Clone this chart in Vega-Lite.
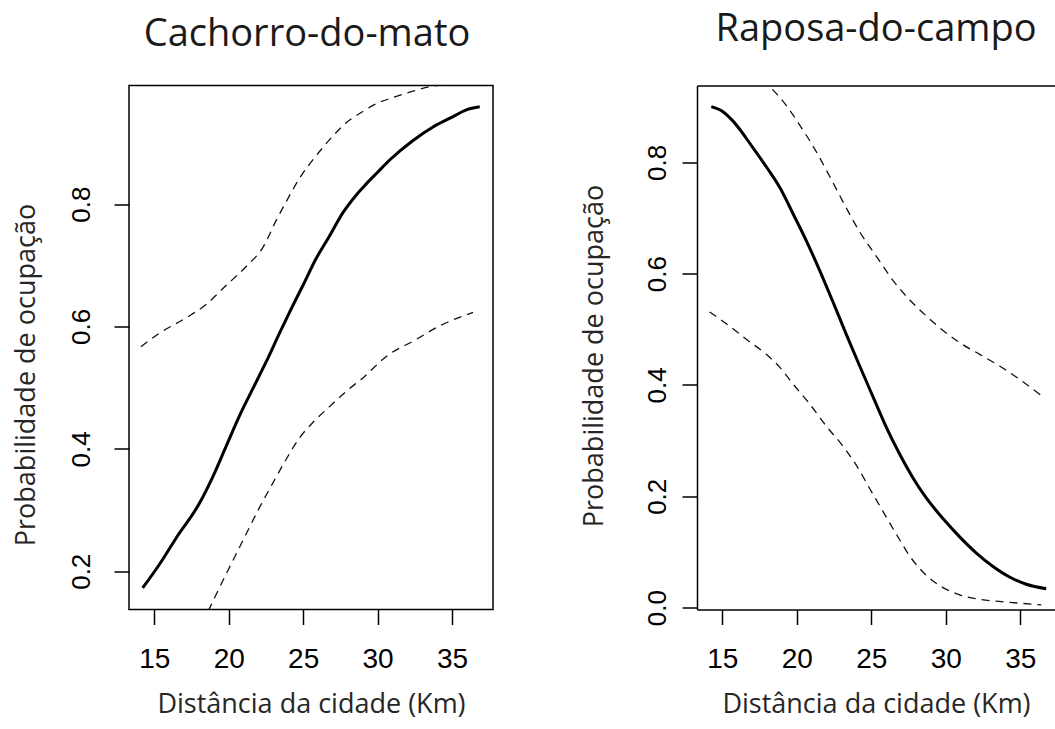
{
  "$schema": "https://vega.github.io/schema/vega-lite/v6.json",
  "background": "white",
  "padding": {"left": 11, "top": 10.5, "right": 0, "bottom": 6},
  "bounds": "flush",
  "spacing": 204,
  "datasets": {
    "cachorro": [
      {"serie": "ajuste", "dist": 14.22, "prob": 0.173},
      {"serie": "ajuste", "dist": 15.34, "prob": 0.211},
      {"serie": "ajuste", "dist": 16.46, "prob": 0.254},
      {"serie": "ajuste", "dist": 18.03, "prob": 0.311},
      {"serie": "ajuste", "dist": 18.92, "prob": 0.354},
      {"serie": "ajuste", "dist": 19.82, "prob": 0.404},
      {"serie": "ajuste", "dist": 20.72, "prob": 0.454},
      {"serie": "ajuste", "dist": 21.61, "prob": 0.498},
      {"serie": "ajuste", "dist": 22.51, "prob": 0.542},
      {"serie": "ajuste", "dist": 23.41, "prob": 0.589},
      {"serie": "ajuste", "dist": 24.08, "prob": 0.623},
      {"serie": "ajuste", "dist": 24.98, "prob": 0.667},
      {"serie": "ajuste", "dist": 25.87, "prob": 0.711},
      {"serie": "ajuste", "dist": 26.77, "prob": 0.748},
      {"serie": "ajuste", "dist": 27.67, "prob": 0.786},
      {"serie": "ajuste", "dist": 28.57, "prob": 0.815},
      {"serie": "ajuste", "dist": 29.24, "prob": 0.833},
      {"serie": "ajuste", "dist": 30.0, "prob": 0.852},
      {"serie": "ajuste", "dist": 30.81, "prob": 0.872},
      {"serie": "ajuste", "dist": 32.38, "prob": 0.904},
      {"serie": "ajuste", "dist": 33.72, "prob": 0.926},
      {"serie": "ajuste", "dist": 35.07, "prob": 0.943},
      {"serie": "ajuste", "dist": 35.96, "prob": 0.954},
      {"serie": "ajuste", "dist": 36.86, "prob": 0.959},
      {"serie": "ic_sup", "dist": 14.1, "prob": 0.567},
      {"serie": "ic_sup", "dist": 15.34, "prob": 0.589},
      {"serie": "ic_sup", "dist": 17.13, "prob": 0.614},
      {"serie": "ic_sup", "dist": 18.48, "prob": 0.636},
      {"serie": "ic_sup", "dist": 19.82, "prob": 0.667},
      {"serie": "ic_sup", "dist": 21.17, "prob": 0.698},
      {"serie": "ic_sup", "dist": 22.29, "prob": 0.729},
      {"serie": "ic_sup", "dist": 23.18, "prob": 0.773},
      {"serie": "ic_sup", "dist": 23.86, "prob": 0.804},
      {"serie": "ic_sup", "dist": 24.75, "prob": 0.842},
      {"serie": "ic_sup", "dist": 25.87, "prob": 0.879},
      {"serie": "ic_sup", "dist": 26.99, "prob": 0.911},
      {"serie": "ic_sup", "dist": 27.89, "prob": 0.933},
      {"serie": "ic_sup", "dist": 28.79, "prob": 0.948},
      {"serie": "ic_sup", "dist": 29.91, "prob": 0.964},
      {"serie": "ic_sup", "dist": 31.26, "prob": 0.976},
      {"serie": "ic_sup", "dist": 32.6, "prob": 0.986},
      {"serie": "ic_sup", "dist": 33.72, "prob": 0.993},
      {"serie": "ic_sup", "dist": 35.0, "prob": 0.996},
      {"serie": "ic_sup", "dist": 36.86, "prob": 0.998},
      {"serie": "ic_inf", "dist": 14.1, "prob": 0.025},
      {"serie": "ic_inf", "dist": 16.0, "prob": 0.05},
      {"serie": "ic_inf", "dist": 17.5, "prob": 0.09},
      {"serie": "ic_inf", "dist": 18.7, "prob": 0.139},
      {"serie": "ic_inf", "dist": 19.37, "prob": 0.173},
      {"serie": "ic_inf", "dist": 20.27, "prob": 0.217},
      {"serie": "ic_inf", "dist": 21.17, "prob": 0.261},
      {"serie": "ic_inf", "dist": 22.06, "prob": 0.304},
      {"serie": "ic_inf", "dist": 22.96, "prob": 0.344},
      {"serie": "ic_inf", "dist": 23.86, "prob": 0.383},
      {"serie": "ic_inf", "dist": 24.75, "prob": 0.418},
      {"serie": "ic_inf", "dist": 25.65, "prob": 0.443},
      {"serie": "ic_inf", "dist": 26.77, "prob": 0.469},
      {"serie": "ic_inf", "dist": 27.89, "prob": 0.494},
      {"serie": "ic_inf", "dist": 29.01, "prob": 0.516},
      {"serie": "ic_inf", "dist": 30.58, "prob": 0.551},
      {"serie": "ic_inf", "dist": 32.6, "prob": 0.579},
      {"serie": "ic_inf", "dist": 34.17, "prob": 0.601},
      {"serie": "ic_inf", "dist": 36.41, "prob": 0.623}
    ],
    "raposa": [
      {"serie": "ajuste", "dist": 14.26, "prob": 0.9},
      {"serie": "ajuste", "dist": 15.04, "prob": 0.891},
      {"serie": "ajuste", "dist": 15.72, "prob": 0.874},
      {"serie": "ajuste", "dist": 17.06, "prob": 0.826},
      {"serie": "ajuste", "dist": 17.95, "prob": 0.792},
      {"serie": "ajuste", "dist": 18.85, "prob": 0.755},
      {"serie": "ajuste", "dist": 19.74, "prob": 0.708},
      {"serie": "ajuste", "dist": 20.64, "prob": 0.659},
      {"serie": "ajuste", "dist": 21.53, "prob": 0.606},
      {"serie": "ajuste", "dist": 22.43, "prob": 0.549},
      {"serie": "ajuste", "dist": 23.32, "prob": 0.491},
      {"serie": "ajuste", "dist": 24.22, "prob": 0.434},
      {"serie": "ajuste", "dist": 25.11, "prob": 0.379},
      {"serie": "ajuste", "dist": 26.01, "prob": 0.324},
      {"serie": "ajuste", "dist": 26.9, "prob": 0.276},
      {"serie": "ajuste", "dist": 27.8, "prob": 0.233},
      {"serie": "ajuste", "dist": 28.69, "prob": 0.197},
      {"serie": "ajuste", "dist": 29.81, "prob": 0.16},
      {"serie": "ajuste", "dist": 30.93, "prob": 0.127},
      {"serie": "ajuste", "dist": 32.05, "prob": 0.098},
      {"serie": "ajuste", "dist": 33.17, "prob": 0.074},
      {"serie": "ajuste", "dist": 34.28, "prob": 0.055},
      {"serie": "ajuste", "dist": 35.4, "prob": 0.042},
      {"serie": "ajuste", "dist": 36.74, "prob": 0.034},
      {"serie": "ic_sup", "dist": 14.26, "prob": 0.985},
      {"serie": "ic_sup", "dist": 16.0, "prob": 0.975},
      {"serie": "ic_sup", "dist": 17.2, "prob": 0.96},
      {"serie": "ic_sup", "dist": 18.18, "prob": 0.936},
      {"serie": "ic_sup", "dist": 19.3, "prob": 0.902},
      {"serie": "ic_sup", "dist": 20.19, "prob": 0.867},
      {"serie": "ic_sup", "dist": 21.31, "prob": 0.819},
      {"serie": "ic_sup", "dist": 22.2, "prob": 0.775},
      {"serie": "ic_sup", "dist": 23.32, "prob": 0.718},
      {"serie": "ic_sup", "dist": 24.22, "prob": 0.675},
      {"serie": "ic_sup", "dist": 25.34, "prob": 0.631},
      {"serie": "ic_sup", "dist": 26.45, "prob": 0.588},
      {"serie": "ic_sup", "dist": 27.57, "prob": 0.553},
      {"serie": "ic_sup", "dist": 28.69, "prob": 0.524},
      {"serie": "ic_sup", "dist": 29.81, "prob": 0.498},
      {"serie": "ic_sup", "dist": 30.93, "prob": 0.476},
      {"serie": "ic_sup", "dist": 32.27, "prob": 0.455},
      {"serie": "ic_sup", "dist": 33.61, "prob": 0.434},
      {"serie": "ic_sup", "dist": 34.96, "prob": 0.41},
      {"serie": "ic_sup", "dist": 36.41, "prob": 0.381},
      {"serie": "ic_inf", "dist": 14.15, "prob": 0.531},
      {"serie": "ic_inf", "dist": 15.27, "prob": 0.51},
      {"serie": "ic_inf", "dist": 16.61, "prob": 0.482},
      {"serie": "ic_inf", "dist": 17.95, "prob": 0.455},
      {"serie": "ic_inf", "dist": 18.85, "prob": 0.432},
      {"serie": "ic_inf", "dist": 19.74, "prob": 0.402},
      {"serie": "ic_inf", "dist": 20.86, "prob": 0.366},
      {"serie": "ic_inf", "dist": 21.98, "prob": 0.326},
      {"serie": "ic_inf", "dist": 23.1, "prob": 0.29},
      {"serie": "ic_inf", "dist": 23.99, "prob": 0.256},
      {"serie": "ic_inf", "dist": 24.89, "prob": 0.214},
      {"serie": "ic_inf", "dist": 25.78, "prob": 0.173},
      {"serie": "ic_inf", "dist": 26.68, "prob": 0.132},
      {"serie": "ic_inf", "dist": 27.57, "prob": 0.093},
      {"serie": "ic_inf", "dist": 28.69, "prob": 0.058},
      {"serie": "ic_inf", "dist": 29.81, "prob": 0.036},
      {"serie": "ic_inf", "dist": 30.93, "prob": 0.023},
      {"serie": "ic_inf", "dist": 32.27, "prob": 0.015},
      {"serie": "ic_inf", "dist": 34.06, "prob": 0.01},
      {"serie": "ic_inf", "dist": 36.41, "prob": 0.005}
    ]
  },
  "config": {
    "view": {"stroke": null},
    "axis": {
      "grid": false,
      "labelFont": "Liberation Sans",
      "labelColor": "#000000",
      "titleFont": "Open Sans",
      "titleFontWeight": "normal",
      "titleColor": "#262626",
      "tickColor": "#000000",
      "domainColor": "#000000",
      "tickWidth": 1.5,
      "domainWidth": 1.5,
      "tickSize": 15
    },
    "title": {"font": "Open Sans", "fontSize": 38, "fontWeight": "normal", "color": "#1a1a1a"}
  },
  "hconcat": [
    {
      "width": 364,
      "height": 524,
      "title": {"text": "Cachorro-do-mato", "offset": 2, "baseline": "alphabetic", "dx": -4},
      "view": {"stroke": "#000000", "strokeWidth": 1.5},
      "data": {"name": "cachorro"},
      "encoding": {
        "x": {
          "field": "dist", "type": "quantitative",
          "scale": {"domain": [13.3, 37.75], "nice": false, "zero": false},
          "axis": {"values": [15, 20, 25, 30, 35], "labelFontSize": 28, "labelPadding": 21, "title": "Distância da cidade (Km)", "titleFontSize": 27, "titlePadding": 18, "domain": false}
        },
        "y": {
          "field": "prob", "type": "quantitative",
          "scale": {"domain": [0.1375, 0.9938], "nice": false, "zero": false},
          "axis": {"values": [0.2, 0.4, 0.6, 0.8], "format": ".1f", "labelAngle": 270, "labelAlign": "center", "labelBaseline": "alphabetic", "labelFontSize": 26, "labelPadding": 25, "title": "Probabilidade de ocupação", "titleFontSize": 27, "titleAngle": 270, "titleBaseline": "alphabetic", "titleX": -95, "titleY": 289, "domain": false}
        }
      },
      "layer": [
        {
          "transform": [{"filter": "datum.serie === 'ajuste'"}],
          "mark": {"type": "line", "color": "#000000", "strokeWidth": 3, "clip": true, "interpolate": "monotone"}
        },
        {
          "transform": [{"filter": "datum.serie !== 'ajuste'"}],
          "mark": {"type": "line", "color": "#111111", "strokeWidth": 1.3, "strokeDash": [8, 6], "clip": true, "interpolate": "monotone"},
          "encoding": {"detail": {"field": "serie"}}
        }
      ]
    },
    {
      "width": 358,
      "height": 524,
      "title": {"text": "Raposa-do-campo", "offset": 7, "baseline": "alphabetic"},
      "data": {"name": "raposa"},
      "encoding": {
        "x": {
          "field": "dist", "type": "quantitative",
          "scale": {"domain": [13.3, 37.33], "nice": false, "zero": false}
        },
        "y": {
          "field": "prob", "type": "quantitative",
          "scale": {"domain": [-0.0034, 0.938], "nice": false, "zero": false},
          "axis": {"values": [0, 0.2, 0.4, 0.6, 0.8], "format": ".1f", "labelAngle": 270, "labelAlign": "center", "labelBaseline": "alphabetic", "labelFontSize": 26, "labelPadding": 17, "title": "Probabilidade de ocupação", "titleFontSize": 27, "titleAngle": 270, "titleBaseline": "alphabetic", "titleX": -95, "titleY": 270, "domain": true}
        }
      },
      "layer": [
        {
          "transform": [{"filter": "datum.serie === 'ajuste'"}],
          "mark": {"type": "line", "color": "#000000", "strokeWidth": 3, "clip": true, "interpolate": "monotone"},
          "encoding": {
            "x": {"field": "dist", "type": "quantitative", "axis": {"orient": "bottom", "values": [15, 20, 25, 30, 35], "labelFontSize": 28, "labelPadding": 21, "title": "Distância da cidade (Km)", "titleFontSize": 27, "titlePadding": 18, "domain": true}}
          }
        },
        {
          "transform": [{"filter": "datum.serie !== 'ajuste'"}],
          "mark": {"type": "line", "color": "#111111", "strokeWidth": 1.3, "strokeDash": [8, 6], "clip": true, "interpolate": "monotone"},
          "encoding": {
            "detail": {"field": "serie"},
            "x": {"field": "dist", "type": "quantitative", "axis": {"orient": "top", "labels": false, "ticks": false, "title": null, "domain": true}}
          }
        }
      ],
      "resolve": {"axis": {"x": "independent"}}
    }
  ]
}
